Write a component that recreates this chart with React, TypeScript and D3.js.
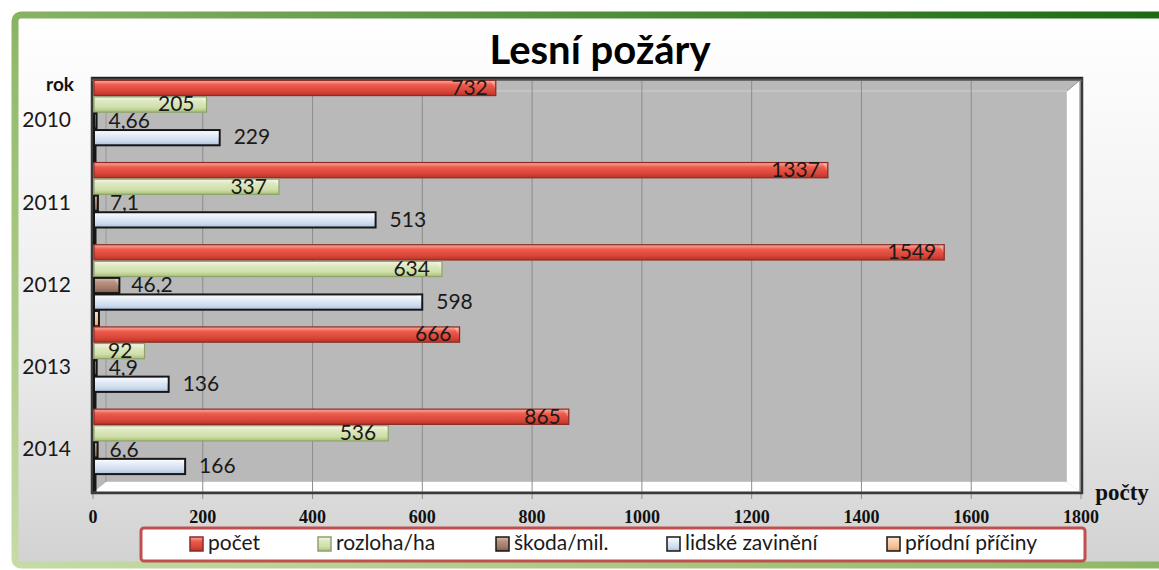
import * as d3 from 'd3'

const W = 1159
const H = 570

const years = ['2010', '2011', '2012', '2013', '2014']
const seriesNames = ['počet', 'rozloha/ha', 'škoda/mil.', 'lidské zavinění', 'příodní příčiny']
const pocet = [732, 1337, 1549, 666, 865]
const rozloha = [205, 337, 634, 92, 536]
const skoda = [4.66, 7.1, 46.2, 4.9, 6.6]
const lidske = [229, 513, 598, 136, 166]
const prirodni = [1, 1, 9, 1, 1]
const xTicks = [0, 200, 400, 600, 800, 1000, 1200, 1400, 1600, 1800]

const seriesValues = [pocet, rozloha, skoda, lidske, prirodni]

// fill gradients + outline per series
const styles = [
  { id: 'gPocet', stops: ['#f7b0a6', '#ee5a4b', '#d9473a', '#b83428'], stroke: '#8a2b22', sw: 1.2, label: 'inEnd' },
  { id: 'gRozl', stops: ['#f3f7e6', '#dde8c0', '#cfdfa8', '#a9bf7a'], stroke: '#8da36a', sw: 1.2, label: 'inEnd' },
  { id: 'gSkoda', stops: ['#d9bcae', '#b8917f', '#a07a69', '#7d5a4b'], stroke: '#161616', sw: 2, label: 'out' },
  { id: 'gLids', stops: ['#ffffff', '#e6eef8', '#cfdcee', '#aac0dd'], stroke: '#161616', sw: 2, label: 'out' },
  { id: 'gPrir', stops: ['#fde6d2', '#fbd1ae', '#f5bf93', '#d99e70'], stroke: '#161616', sw: 2, label: 'none' },
]

const fmt = (v: number) => String(v).replace('.', ',')

export default function App() {
  const x = d3.scaleLinear().domain([0, 1800]).range([93, 1081])
  const y = d3.scaleBand<string>().domain(years).range([80, 491]).paddingInner(0)
  const ySub = d3.scaleBand<string>().domain(seriesNames).range([0, y.bandwidth()]).paddingInner(0.08).paddingOuter(0.02)
  const bh = ySub.bandwidth()

  const plot = { x0: 92, x1: 1082, y0: 78, y1: 493 }
  const wall = { x0: 106, x1: 1067, y0: 91, y1: 482 }

  const legendItems = [
    { x: 190, style: styles[0] },
    { x: 318, style: styles[1] },
    { x: 496, style: styles[2] },
    { x: 667, style: styles[3] },
    { x: 887, style: styles[4] },
  ]

  return (
    <svg width={W} height={H} style={{ display: 'block', position: 'absolute', left: 0, top: 0 }}>
      <defs>
        <linearGradient id="bgGrad" x1="0" y1="0" x2="0" y2="1">
          <stop offset="0" stopColor="#ffffff" />
          <stop offset="0.6" stopColor="#ececec" />
          <stop offset="1" stopColor="#d2d2d2" />
        </linearGradient>
        <linearGradient id="frameGrad" x1="0" y1="1" x2="1" y2="0">
          <stop offset="0" stopColor="#c6dba6" />
          <stop offset="0.45" stopColor="#93bb6a" />
          <stop offset="1" stopColor="#176812" />
        </linearGradient>
        <linearGradient id="topEdge" x1="0" y1="0" x2="0" y2="1">
          <stop offset="0" stopColor="#111" />
          <stop offset="1" stopColor="#777" />
        </linearGradient>
        {styles.map(s => (
          <linearGradient key={s.id} id={s.id} x1="0" y1="0" x2="0" y2="1">
            <stop offset="0" stopColor={s.stops[0]} />
            <stop offset="0.3" stopColor={s.stops[1]} />
            <stop offset="0.7" stopColor={s.stops[2]} />
            <stop offset="1" stopColor={s.stops[3]} />
          </linearGradient>
        ))}
      </defs>

      {/* chart area + frame */}
      <rect x={0} y={0} width={W} height={H} fill="#ffffff" />
      <rect x={15} y={15} width={W + 20} height={550} rx={6} fill="url(#bgGrad)"
        stroke="url(#frameGrad)" strokeWidth={7} />

      {/* title */}
      <text x={600} y={64} textAnchor="middle"
        style={{ fontFamily: 'Lato, "Noto Sans", sans-serif', fontWeight: 700, fontSize: 40, fill: '#000' }}>
        Lesní požáry
      </text>

      {/* plot area */}
      <rect x={plot.x0} y={plot.y0} width={plot.x1 - plot.x0} height={plot.y1 - plot.y0} fill="#b9b9b9" />
      <rect x={wall.x0} y={wall.y0} width={wall.x1 - wall.x0} height={wall.y1 - wall.y0}
        fill="none" stroke="#d2d2d2" strokeWidth={1} />
      {/* side wall + floor */}
      <polygon points={`${wall.x1},${wall.y0} ${plot.x1 - 3},${plot.y0 + 3} ${plot.x1 - 3},${plot.y1 - 2} ${wall.x1},${wall.y1}`}
        fill="#ffffff" />
      <polygon points={`${plot.x0 + 3},${plot.y1 - 2} ${plot.x1 - 3},${plot.y1 - 2} ${wall.x1},${wall.y1} ${wall.x0},${wall.y1}`}
        fill="#ffffff" />
      <line x1={wall.x1} y1={wall.y0} x2={plot.x1 - 3} y2={plot.y0 + 3} stroke="#999" strokeWidth={1} />

      {/* gridlines & ticks */}
      {xTicks.slice(1).map(t => (
        <line key={t} x1={x(t)} x2={x(t)} y1={plot.y0} y2={plot.y1 + 6} stroke="#8c8c8c" strokeWidth={1} />
      ))}
      <line x1={wall.x0} x2={wall.x0} y1={wall.y0} y2={wall.y1} stroke="#8c8c8c" strokeWidth={1} />
      <line x1={x(0)} x2={x(0)} y1={plot.y1} y2={plot.y1 + 6} stroke="#8c8c8c" strokeWidth={1} />

      {/* frame border */}
      <rect x={plot.x0} y={plot.y0} width={plot.x1 - plot.x0} height={plot.y1 - plot.y0}
        fill="none" stroke="#3a3a3a" strokeWidth={2.5} />
      <rect x={plot.x0} y={plot.y0 - 1} width={plot.x1 - plot.x0} height={4} fill="url(#topEdge)" />

      {/* bars */}
      {years.map((yr, i) => (
        <g key={yr}>
          {seriesValues.map((vals, s) => {
            const st = styles[s]
            const v = vals[i]
            const by = (y(yr) ?? 0) + (ySub(seriesNames[s]) ?? 0)
            const x0 = x(0) + 1
            const w = Math.max(1.5, x(v) - x(0))
            const cy = by + bh / 2 + 1.5
            return (
              <g key={s}>
                <rect x={x0} y={by} width={w} height={bh} fill={`url(#${st.id})`}
                  stroke={st.stroke} strokeWidth={st.sw} />
                {w > 12 && (
                  <polygon points={`${x0 + w - 5},${by + 1} ${x0 + w - 1},${by + 1} ${x0 + w - 1},${by + bh / 2}`}
                    fill="#ffffff" opacity={0.3} />
                )}
                {st.label === 'inEnd' && (
                  <text x={x(v) - (s === 0 ? 7 : 11)} y={cy} textAnchor="end" dominantBaseline="middle"
                    style={{ fontFamily: 'Lato, "Noto Sans", sans-serif', fontSize: 21, fill: '#1a1a1a' }}>
                    {fmt(v)}
                  </text>
                )}
                {st.label === 'out' && (
                  <text x={x(v) + (s === 2 ? 13 : 15)} y={cy} textAnchor="start" dominantBaseline="middle"
                    style={{ fontFamily: 'Lato, "Noto Sans", sans-serif', fontSize: 21, fill: '#1a1a1a' }}>
                    {fmt(v)}
                  </text>
                )}
              </g>
            )
          })}
        </g>
      ))}

      {/* category labels */}
      {years.map(yr => (
        <text key={yr} x={71} y={(y(yr) ?? 0) + y.bandwidth() / 2 + 1} textAnchor="end" dominantBaseline="middle"
          style={{ fontFamily: 'Lato, "Noto Sans", sans-serif', fontSize: 21, fill: '#1a1a1a' }}>
          {yr}
        </text>
      ))}
      <text x={74} y={91} textAnchor="end"
        style={{ fontFamily: 'Lato, "Noto Sans", sans-serif', fontWeight: 700, fontSize: 19, fill: '#111' }}>
        rok
      </text>

      {/* x tick labels */}
      {xTicks.map(t => (
        <text key={t} x={x(t)} y={523} textAnchor="middle"
          style={{ fontFamily: '"Liberation Serif", "DejaVu Serif", serif', fontWeight: 700, fontSize: 18, fill: '#111' }}>
          {t}
        </text>
      ))}
      <text x={1122} y={500} textAnchor="middle"
        style={{ fontFamily: '"Liberation Serif", "DejaVu Serif", serif', fontWeight: 700, fontSize: 23, fill: '#111' }}>
        počty
      </text>

      {/* legend */}
      <rect x={141} y={528} width={944} height={33} rx={3} fill="#ffffff" stroke="#c0504d" strokeWidth={3} />
      {legendItems.map((it, k) => (
        <g key={k}>
          <rect x={it.x} y={537} width={13} height={14} fill={`url(#${it.style.id})`}
            stroke={it.style.stroke} strokeWidth={1.5} />
          <text x={it.x + 18} y={545} dominantBaseline="middle"
            style={{ fontFamily: 'Lato, "Noto Sans", sans-serif', fontSize: 21, fill: '#1a1a1a' }}>
            {seriesNames[k]}
          </text>
        </g>
      ))}
    </svg>
  )
}
